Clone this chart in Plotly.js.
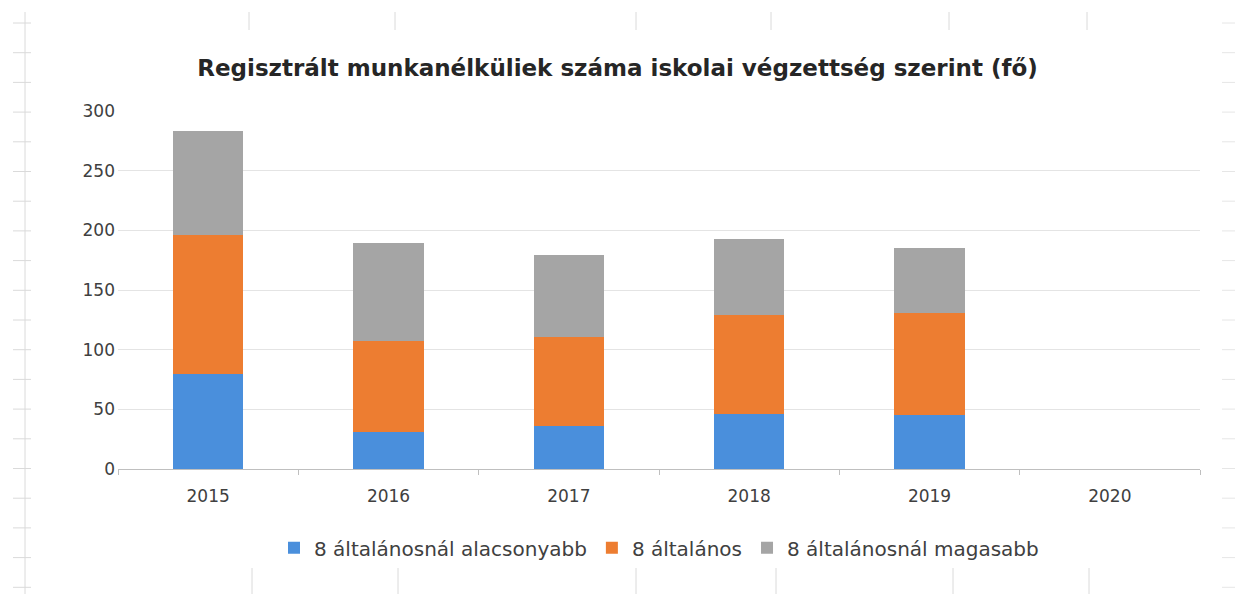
<!DOCTYPE html>
<html>
<head>
<meta charset="utf-8">
<script src="https://cdn.plot.ly/plotly-3.0.1.min.js"></script>
<style>html,body{margin:0;padding:0;background:#fff;}#chart{width:1235px;height:594px;}</style>
</head>
<body>
<div id="chart"></div>
<script>
const years = ['2015', '2016', '2017', '2018', '2019', '2020'];
const seriesNames = ['8 általánosnál alacsonyabb', '8 általános', '8 általánosnál magasabb'];
const below8 = [80, 31, 36, 46, 45, null];
const general8 = [116, 76, 75, 83, 86, null];
const above8 = [87, 82, 68, 64, 54, null];
const yTicks = [0, 50, 100, 150, 200, 250, 300];

const colors = ['#4a8fdc', '#ed7d31', '#a5a5a5'];
const values = [below8, general8, above8];
const font = '"DejaVu Sans", Verdana, sans-serif';

const data = values.map((v, i) => ({
  type: 'bar', x: years, y: v, name: seriesNames[i],
  marker: {color: colors[i]}, hoverinfo: 'y'
}));

// spreadsheet cell-border artefacts around the chart (page pixels)
const W = 1235, H = 594, L = 118, R = 35, T = 111, B = 125;
const px = x => (x - L) / (W - L - R);
const py = y => (H - B - y) / (H - T - B);
const cellCol = '#dadada';
const shapes = [];
shapes.push({type: 'line', xref: 'paper', yref: 'paper', x0: px(25), x1: px(25), y0: py(12), y1: py(594), line: {color: cellCol, width: 1}});
for (let y = 23; y < 594; y += 29.7) {
  shapes.push({type: 'line', xref: 'paper', yref: 'paper', x0: px(13), x1: px(31), y0: py(y), y1: py(y), line: {color: cellCol, width: 1}});
  shapes.push({type: 'line', xref: 'paper', yref: 'paper', x0: px(1222), x1: px(1235), y0: py(y), y1: py(y), line: {color: '#e6e6e6', width: 1}});
}
[249, 395, 636, 771, 949, 1087].forEach(x => {
  shapes.push({type: 'line', xref: 'paper', yref: 'paper', x0: px(x), x1: px(x), y0: py(12), y1: py(30), line: {color: cellCol, width: 1}});
});
[252, 398, 636, 776, 953, 1089].forEach(x => {
  shapes.push({type: 'line', xref: 'paper', yref: 'paper', x0: px(x), x1: px(x), y0: py(568), y1: py(594), line: {color: cellCol, width: 1}});
});

const layout = {
  width: W, height: H,
  margin: {l: L, r: R, t: T, b: B},
  paper_bgcolor: '#fff', plot_bgcolor: '#fff',
  barmode: 'stack', bargap: 0.61,
  title: {text: 'Regisztrált munkanélküliek száma iskolai végzettség szerint (fő)',
    font: {family: font, size: 23, color: '#262626', weight: 'bold'},
    x: 0.5, xanchor: 'center', y: 0.885, yanchor: 'middle'},
  xaxis: {type: 'category', tickfont: {family: font, size: 17, color: '#404040'},
    showline: true, linecolor: '#bfbfbf', linewidth: 1, ticks: 'outside',
    tickson: 'boundaries', ticklen: 5, tickcolor: '#bfbfbf', showgrid: false,
    ticklabelstandoff: 12},
  yaxis: {range: [0, 300], tickvals: yTicks, tickfont: {family: font, size: 17, color: '#404040'},
    showgrid: true, gridcolor: '#e4e4e4', zeroline: false, showline: false, ticks: '',
    ticklabelstandoff: 2},
  legend: {orientation: 'h', x: 0.5, xanchor: 'center', y: -0.22, yanchor: 'middle',
    font: {family: font, size: 20, color: '#404040'}, itemwidth: 30, traceorder: 'normal'},
  showlegend: true,
  shapes: shapes
};

Plotly.newPlot('chart', data, layout, {displayModeBar: false, staticPlot: true});
</script>
</body>
</html>
